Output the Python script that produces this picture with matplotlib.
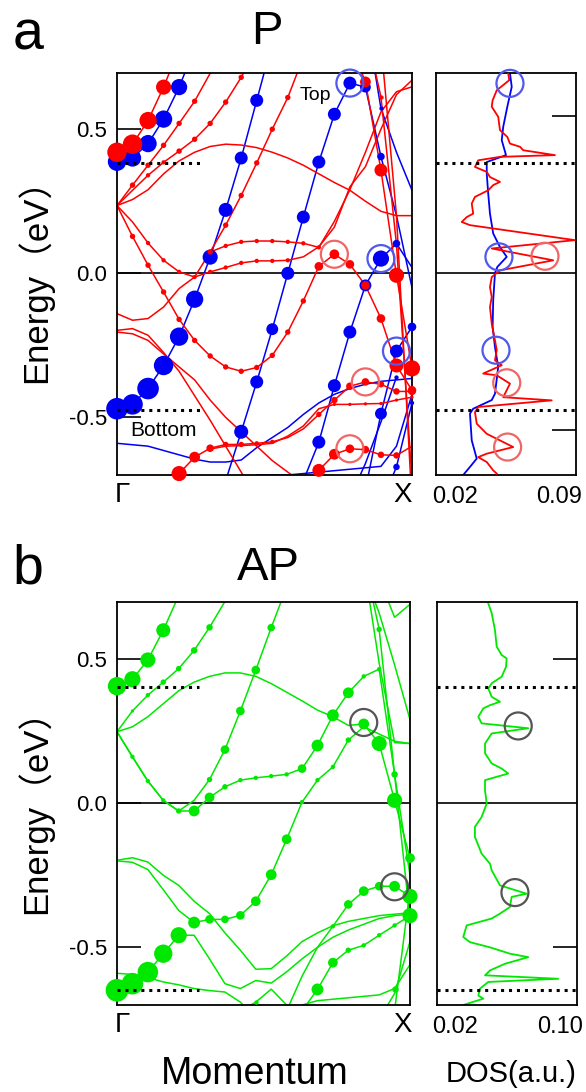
import numpy as np
import matplotlib
matplotlib.use('Agg')
import matplotlib.pyplot as plt

plt.rcParams['font.family'] = ['Liberation Sans', 'Noto Sans CJK JP', 'DejaVu Sans']

nan = np.nan
# momentum grid from Gamma (0) to X (1), 20 points
k = np.arange(20) / 19

# ---------------- panel a (P) : band energies (eV) and weights (dot size) ----------------
# blue (spin down) bands
ba1 = [-0.47, -0.455, -0.40, -0.32, -0.22, -0.09, 0.056, 0.22, 0.40, 0.60, 0.80]
ba1_w = [20, 19, 20, 18, 17, 16, 14, 13, 12, 12]
ba2 = [0.387, 0.40, 0.45, 0.535, 0.646, 0.78]
ba2_w = [17, 16, 16, 16, 15]
ba3 = [nan] * 7 + [-0.72, -0.55, -0.377, -0.194, 0.0, 0.195, 0.386, 0.552, 0.66, 0.646, 0.405, 0.20, -0.05]
ba3_w = [0] * 8 + [13, 12, 11, 12, 12, 12, 12, 12, 10, 7, 0, 0]
ba4 = [nan] * 12 + [-0.72, -0.586, -0.39, -0.204, -0.042, 0.051, 0.103, 0.02]
ba4_w = [0] * 13 + [12, 12, 12, 11, 15, 7, 0]
ba5 = [nan] * 16 + [0.90, 0.572, 0.42, 0.288]
ba5_w = [0] * 17 + [4]
ba6 = [nan] * 16 + [-0.75, -0.487, -0.27, -0.186]
ba6_w = [0] * 17 + [11, 12, 8]
ba7 = [nan] * 15 + [-0.78, -0.66, -0.516, -0.36]
ba7_w = [0] * 18 + [4, 6]
ba8 = [nan] * 17 + [-0.80, -0.672, -0.45]
ba8_w = [0] * 18 + [6, 4]
ba9 = [-0.59, -0.595, -0.60, -0.615, -0.63, -0.645, -0.655, -0.655, -0.648, -0.605,
       -0.57, -0.535, -0.49, -0.45, -0.42, -0.40, -0.385, -0.375, -0.37, -0.365]
ba10 = [nan] * 8 + [-0.72, -0.70, -0.70, -0.70, -0.695, -0.69, -0.685, -0.68, -0.675, -0.67, -0.60, -0.42]

# red (spin up) bands
ra1 = [0.42, 0.448, 0.53, 0.646, 0.78]
ra1_w = [18, 18, 16, 14]
ra2 = [0.235, 0.306, 0.375, 0.444, 0.52, 0.597, 0.694, 0.80]
ra2_w = [0, 5, 5, 5, 5, 5]
ra3 = [0.235, 0.288, 0.34, 0.385, 0.424, 0.465, 0.52, 0.594, 0.68, 0.78]
ra3_w = [0, 0, 4, 4, 5, 5, 5, 5, 5]
ra4 = [0.235, 0.256, 0.29, 0.345, 0.39, 0.42, 0.44, 0.448, 0.445, 0.436,
       0.42, 0.40, 0.375, 0.345, 0.315, 0.288, 0.25, 0.215, 0.20, 0.20]
ra5 = [0.235, 0.128, 0.028, -0.065, -0.16, -0.233, -0.287, -0.325, -0.34, -0.327,
       -0.285, -0.204, -0.096, 0.024, 0.066, 0.031, -0.042, -0.157, -0.32, -0.406]
ra5_w = [0, 5, 5, 5, 5, 5, 5, 5, 5, 5, 5, 5, 5, 8, 9, 8, 8, 8, 13, 8]
ra6 = [0.235, 0.178, 0.105, 0.045, 0.005, -0.013, 0.005, 0.02, 0.036, 0.043,
       0.043, 0.045, 0.057, 0.092, 0.16, 0.30, 0.37, 0.50, 0.62, 0.67]
ra6_w = [0, 0, 4, 4, 4, 4, 4, 4, 4, 4, 4, 4]
ra7 = [-0.14, -0.163, -0.157, -0.117, -0.053, -0.013, 0.074, 0.167, 0.27, 0.383, 0.50, 0.61, 0.75]
ra7_w = [0] * 6 + [5, 5, 5, 5, 5, 5]
ra8 = [nan] * 6 + [0.074, 0.095, 0.109, 0.112, 0.112, 0.109, 0.104, 0.09, 0.18, 0.29, 0.42, 0.56, 0.63, 0.647]
ra8_w = [0] * 7 + [4, 4, 4, 4, 4, 4, 4]
ra9 = [nan] * 15 + [0.80, 0.664, 0.358, -0.007, -0.33]
ra9_w = [0] * 16 + [10, 12, 14, 15]
ra10 = [-0.198, -0.192, -0.215, -0.275, -0.34, -0.425, -0.51, -0.60, -0.69, -0.78]
ra11 = [-0.204, -0.21, -0.233, -0.28, -0.325, -0.37, -0.44, -0.50, -0.55, -0.60, -0.65, -0.69, -0.73]
ra12 = [nan] * 3 + [-0.76, -0.695, -0.638, -0.607, -0.594, -0.594, -0.59, -0.585, -0.57, -0.54,
                    -0.49, -0.44, -0.392, -0.377, -0.385, -0.41, -0.41]
ra12_w = [0, 0, 0, 0, 14, 10, 7, 5, 5, 4, 4, 0, 0, 5, 6, 7, 7, 6, 6, 7]
ra13 = [nan] * 6 + [-0.61, -0.60, -0.598, -0.595, -0.59, -0.565, -0.53, -0.47, -0.455, -0.455,
                    -0.453, -0.452, -0.44, -0.43]
ra13_w = [0] * 14 + [3, 3, 3, 3, 3, 3]
ra14 = [nan] * 12 + [-0.75, -0.684, -0.628, -0.609, -0.612, -0.63, -0.632, -0.60]
ra14_w = [0] * 13 + [12, 10, 8, 7, 6, 6]
ra15 = [nan] * 16 + [0.85, 0.612, 0.10, -0.72]
ra15_w = [0] * 17 + [4]
ra16 = [nan] * 17 + [0.80, 0.20, -0.80]

# DOS panel a
dos_a_blue_e = [0.694, 0.647, 0.578, 0.508, 0.462, 0.41, 0.386, 0.346, 0.277, 0.207, 0.138, 0.091, 0.057,
                0.022, 0.0, -0.094, -0.186, -0.256, -0.325, -0.418, -0.44, -0.47, -0.487, -0.58, -0.643,
                -0.672, -0.70]
dos_a_blue = [0.0574, 0.0586, 0.0556, 0.0528, 0.0518, 0.0547, 0.0416, 0.0416, 0.0426, 0.0438, 0.046, 0.0506,
              0.0552, 0.0488, 0.0472, 0.046, 0.0456, 0.0472, 0.0494, 0.0472, 0.045, 0.0324, 0.0302, 0.0314,
              0.0348, 0.0302, 0.0256]
dos_a_red_e = [0.694, 0.67, 0.635, 0.60, 0.578, 0.543, 0.497, 0.473, 0.45, 0.439, 0.427, 0.41, 0.404, 0.392,
               0.369, 0.352, 0.334, 0.317, 0.306, 0.288, 0.265, 0.242, 0.207, 0.195, 0.178, 0.167, 0.115,
               0.086, 0.045, 0.01, -0.013, -0.048, -0.082, -0.117, -0.175, -0.233, -0.267, -0.302, -0.319,
               -0.348, -0.354, -0.383, -0.43, -0.441, -0.464, -0.482, -0.522, -0.557, -0.58, -0.603,
               -0.626, -0.638, -0.655, -0.684, -0.695]
dos_a_red = [0.0562, 0.0569, 0.0484, 0.0456, 0.045, 0.0494, 0.0506, 0.0556, 0.0574, 0.0642, 0.0664, 0.088,
             0.0506, 0.0358, 0.0336, 0.0416, 0.0438, 0.0506, 0.046, 0.0426, 0.0336, 0.0314, 0.0324, 0.028,
             0.0246, 0.0302, 0.1016, 0.045, 0.0868, 0.0506, 0.045, 0.0438, 0.045, 0.0438, 0.045, 0.0472,
             0.0484, 0.0472, 0.0518, 0.0392, 0.0484, 0.0574, 0.0528, 0.0858, 0.0358, 0.0336, 0.0348,
             0.0416, 0.0506, 0.0596, 0.0416, 0.0358, 0.0416, 0.046, 0.0484]

# marked states (circles)
circ_a_blue_k = [15 / 19, 17 / 19, 18 / 19]
circ_a_blue_e = [0.66, 0.051, -0.27]
circ_a_red_k = [14 / 19, 16 / 19, 15 / 19]
circ_a_red_e = [0.066, -0.377, -0.609]
circ_dos_a_blue = [0.0574, 0.0499, 0.0479]
circ_dos_a_blue_e = [0.659, 0.057, -0.267]
circ_dos_a_red = [0.0812, 0.0552, 0.0558]
circ_dos_a_red_e = [0.059, -0.38, -0.603]

# ---------------- panel b (AP) ----------------
gb1 = [-0.649, -0.626, -0.586, -0.522, -0.458, -0.458, -0.54, -0.626, -0.643, -0.615,
       -0.624, -0.585, -0.54, -0.50, -0.465, -0.44, -0.42, -0.40, -0.39, -0.385]
gb1_w = [21, 20, 19, 17, 15]
gb2 = [-0.198, -0.189, -0.204, -0.25, -0.285, -0.34, -0.383, -0.45, -0.51, -0.576,
       -0.574, -0.53, -0.48, -0.45, -0.425, -0.41, -0.40, -0.39, -0.385, -0.38]
gb4 = [-0.20, -0.205, -0.23, -0.30, -0.372, -0.414, -0.403, -0.403, -0.389, -0.34,
       -0.248, -0.125, 0.004, 0.08, 0.126, 0.219, 0.265, 0.24, 0.215, 0.207]
gb4_w = [0, 0, 0, 0, 0, 11, 8, 7, 8, 9, 10, 9, 4, 4, 4, 5]
gb5 = [0.248, 0.161, 0.077, 0.01, -0.027, 0.01, 0.082, 0.186, 0.32, 0.462, 0.609, 0.75]
gb5_w = [0, 4, 4, 4, 5, 0, 5, 8, 8, 8, 7]
gb6 = [0.248, 0.161, 0.077, 0.01, -0.027, -0.027, 0.02, 0.057, 0.08, 0.088,
       0.094, 0.10, 0.12, 0.20, 0.305, 0.383, 0.44, 0.465, 0.10, -0.25]
gb6_w = [0, 0, 0, 0, 0, 10, 9, 5, 4, 4, 4, 4, 8, 11, 11, 10, 4, 4]
gb7 = [0.248, 0.265, 0.30, 0.345, 0.39, 0.42, 0.44, 0.452, 0.452, 0.44,
       0.415, 0.385, 0.355, 0.323, 0.30, 0.27, 0.275, 0.207, 0.01, -0.19]
gb7_w = [0] * 16 + [10, 14, 14, 9]
gb8 = [nan] * 16 + [0.85, 0.603, 0.10, -0.40]
gb8_w = [0] * 17 + [5, 6]
gb9 = [nan] * 16 + [0.83, 0.486, 0.21, 0.207]
gb10 = [nan] * 17 + [0.78, 0.645, 0.69]
gb11 = [nan] * 16 + [0.80, 0.66, 0.48, 0.29]
gb12 = [nan] * 11 + [-0.80, -0.72, -0.646, -0.553, -0.51, -0.493, -0.458, -0.424, -0.39]
gb12_w = [0] * 13 + [11, 9, 5, 4, 4, 4, 14]
gb13 = [nan] * 10 + [-0.80, -0.72, -0.60, -0.50, -0.427, -0.351, -0.305, -0.288, -0.288, -0.323]
gb13_w = [0] * 14 + [4, 8, 9, 8, 10, 14]
gb15 = [nan] * 11 + [-0.76, -0.70, -0.685, -0.68, -0.675, -0.67, -0.665, -0.643, -0.56]
gb15_w = [0] * 18 + [6]
gb16 = [nan] * 16 + [-0.80, -0.75, -0.66, -0.48]
gb17 = [nan] * 17 + [-0.85, -0.72, -0.30]
gb18 = [0.406, 0.43, 0.497, 0.60, 0.72]
gb18_w = [17, 15, 14, 13]
gb19 = [0.248, 0.32, 0.375, 0.42, 0.467, 0.53, 0.61, 0.70, 0.80]
gb19_w = [0, 3, 4, 5, 5, 6, 6]
gb21 = [-0.59, -0.594, -0.605, -0.62, -0.63, -0.643, -0.65, -0.655, -0.69, -0.75]
gb22 = [nan] * 7 + [-0.76, -0.72, -0.69, -0.645, -0.70, -0.76]
gb22_w = [0] * 9 + [4]

dos_b_e = [0.693, 0.659, 0.60, 0.543, 0.514, 0.502, 0.473, 0.439, 0.416, 0.398, 0.369, 0.352, 0.34, 0.329,
           0.30, 0.277, 0.26, 0.242, 0.207, 0.173, 0.138, 0.12, 0.103, 0.08, 0.045, -0.001, -0.048, -0.082,
           -0.117, -0.175, -0.21, -0.233, -0.285, -0.314, -0.325, -0.36, -0.383, -0.40, -0.424, -0.464,
           -0.482, -0.50, -0.522, -0.534, -0.557, -0.58, -0.597, -0.609, -0.62, -0.643, -0.667, -0.678, -0.70]
dos_b = [0.0454, 0.048, 0.0505, 0.0518, 0.0556, 0.0594, 0.0589, 0.0556, 0.048, 0.0454, 0.048, 0.0543, 0.0467,
         0.0416, 0.0378, 0.0403, 0.0759, 0.048, 0.0429, 0.0429, 0.048, 0.0556, 0.0606, 0.0429, 0.0429, 0.0442,
         0.0403, 0.0352, 0.0352, 0.0403, 0.0467, 0.048, 0.0543, 0.0746, 0.0632, 0.0619, 0.0543, 0.048, 0.0289,
         0.0263, 0.0314, 0.0467, 0.0619, 0.0759, 0.0581, 0.0467, 0.0429, 0.0987, 0.0454, 0.0391, 0.0378,
         0.0416, 0.0263]

circ_b_k = [16 / 19, 18 / 19]
circ_b_e = [0.28, -0.29]
circ_dos_b = [0.0682, 0.0657]
circ_dos_b_e = [0.268, -0.31]

# band edges (dotted) and tick positions
edges_a = [0.384, -0.476]
edges_b = [0.404, -0.649]
dos_ticks_a = [0.545, -0.545]
dos_ticks_b = [0.5, -0.5]

RED = '#ff0000'
BLUE = '#0000f5'
GREEN = '#00e800'
DPI = 100
DOT = 1.08  # dot diameter per weight unit, in pixels


def pad(vals, fill):
    out = np.full(20, fill, dtype=float)
    out[:len(vals)] = vals
    return out


def draw(ax, bands, color):
    for e, w in bands:
        e = pad(e, nan)
        ax.plot(k, e, color=color, lw=1.1, zorder=2)
    for e, w in bands:
        e = pad(e, nan)
        w = pad(w, 0)
        m = (w > 0) & ~np.isnan(e)
        ax.scatter(k[m], e[m], s=(w[m] * DOT * 72 / DPI) ** 2, color=color, lw=0,
                   zorder=4 if color == RED else 3, clip_on=False)


def circles(ax, x, y, color):
    ax.scatter(x, y, s=(27 * 72 / DPI) ** 2, facecolors='none', edgecolors=color,
               lw=1.6, zorder=6, clip_on=False)


def style_band(ax, edges):
    ax.set_xlim(0, 1)
    ax.set_ylim(-0.70, 0.695)
    ax.set_xticks([])
    ax.set_yticks([-0.5, 0, 0.5])
    ax.set_yticklabels(['-0.5', '0.0', '0.5'], fontsize=16)
    ax.tick_params(axis='y', direction='in', length=17, width=1.2, pad=7)
    ax.axhline(0, color='k', lw=1.2, zorder=1)
    for e in edges:
        ax.plot([0, 0.28], [e, e], color='k', lw=2.2, ls=(0, (1, 1.6)), zorder=5)
    for s in ax.spines.values():
        s.set_linewidth(1.3)


def style_dos(ax, edges, ticks, xlim):
    ax.set_xlim(*xlim)
    ax.set_ylim(-0.70, 0.695)
    ax.set_xticks([])
    ax.yaxis.tick_right()
    ax.set_yticks(ticks)
    ax.set_yticklabels([])
    ax.tick_params(axis='y', direction='in', length=17, width=1.2)
    ax.axhline(0, color='k', lw=1.2, zorder=1)
    for e in edges:
        ax.axhline(e, color='k', lw=2.2, ls=(0, (1, 1.6)), zorder=5)
    for s in ax.spines.values():
        s.set_linewidth(1.3)


W, H = 586, 1092
fig = plt.figure(figsize=(W / DPI, H / DPI), dpi=DPI)


def box(x0, y0, x1, y1):
    return [x0 / W, 1 - y1 / H, (x1 - x0) / W, (y1 - y0) / H]


def ftext(x, y, s, **kw):
    fig.text(x / W, 1 - y / H, s, ha='center', va='center', **kw)


# ---- panel a ----
ax1 = fig.add_axes(box(117, 73, 412, 475))
style_band(ax1, edges_a)
draw(ax1, [(ba9, []), (ba10, []), (ba1, ba1_w), (ba2, ba2_w), (ba3, ba3_w), (ba4, ba4_w),
           (ba5, ba5_w), (ba6, ba6_w), (ba7, ba7_w), (ba8, ba8_w)], BLUE)
draw(ax1, [(ra1, ra1_w), (ra2, ra2_w), (ra3, ra3_w), (ra4, []), (ra5, ra5_w), (ra6, ra6_w),
           (ra7, ra7_w), (ra8, ra8_w), (ra9, ra9_w), (ra10, []), (ra11, []), (ra12, ra12_w),
           (ra13, ra13_w), (ra14, ra14_w), (ra15, ra15_w), (ra16, [])], RED)
circles(ax1, circ_a_blue_k, circ_a_blue_e, '#5058ee')
circles(ax1, circ_a_red_k, circ_a_red_e, '#f06666')
ax1.text(0.671, 0.618, 'Top', fontsize=14, ha='center', va='center')
ax1.text(0.156, -0.545, 'Bottom', fontsize=15, ha='center', va='center')

ax2 = fig.add_axes(box(436, 73, 576, 475))
style_dos(ax2, edges_a, dos_ticks_a, (0.0071, 0.1023))
ax2.plot(dos_a_blue, dos_a_blue_e, color=BLUE, lw=1.3, zorder=2)
ax2.plot(dos_a_red, dos_a_red_e, color=RED, lw=1.3, zorder=3)
circles(ax2, circ_dos_a_blue, circ_dos_a_blue_e, '#5058ee')
circles(ax2, circ_dos_a_red, circ_dos_a_red_e, '#f06666')

# ---- panel b ----
ax3 = fig.add_axes(box(117, 602, 410, 1005))
style_band(ax3, edges_b)
ax3.set_ylim(-0.70, 0.698)
draw(ax3, [(gb1, gb1_w), (gb2, []), (gb4, gb4_w), (gb5, gb5_w), (gb6, gb6_w), (gb7, gb7_w),
           (gb8, gb8_w), (gb9, []), (gb10, []), (gb11, []), (gb12, gb12_w), (gb13, gb13_w),
           (gb15, gb15_w), (gb16, []), (gb17, []), (gb18, gb18_w), (gb19, gb19_w), (gb21, []),
           (gb22, gb22_w)], GREEN)
circles(ax3, circ_b_k, circ_b_e, '#555555')

ax4 = fig.add_axes(box(437, 602, 577, 1005))
style_dos(ax4, edges_b, dos_ticks_b, (0.0063, 0.113))
ax4.set_ylim(-0.70, 0.698)
ax4.plot(dos_b, dos_b_e, color=GREEN, lw=1.3, zorder=2)
circles(ax4, circ_dos_b, circ_dos_b_e, '#555555')

# ---- labels ----
ftext(28, 36, 'a', fontsize=40)
ftext(28, 570, 'b', fontsize=40)
ftext(267, 32, 'P', fontsize=34)
ftext(268, 568, 'AP', fontsize=34)
ftext(35, 272, 'Energy（eV）', fontsize=25, rotation=90)
ftext(35, 803, 'Energy（eV）', fontsize=25, rotation=90)
for yy in (495, 1025):
    ftext(122, yy, 'Γ', fontsize=20)
    ftext(403, yy, 'X', fontsize=20)
ftext(455, 497, '0.02', fontsize=17)
ftext(559, 497, '0.09', fontsize=17)
ftext(455, 1027, '0.02', fontsize=17)
ftext(560, 1027, '0.10', fontsize=17)
ftext(255, 1074, 'Momentum', fontsize=27)
ftext(511, 1074, 'DOS(a.u.)', fontsize=21)

fig.savefig('out.png', dpi=DPI)
